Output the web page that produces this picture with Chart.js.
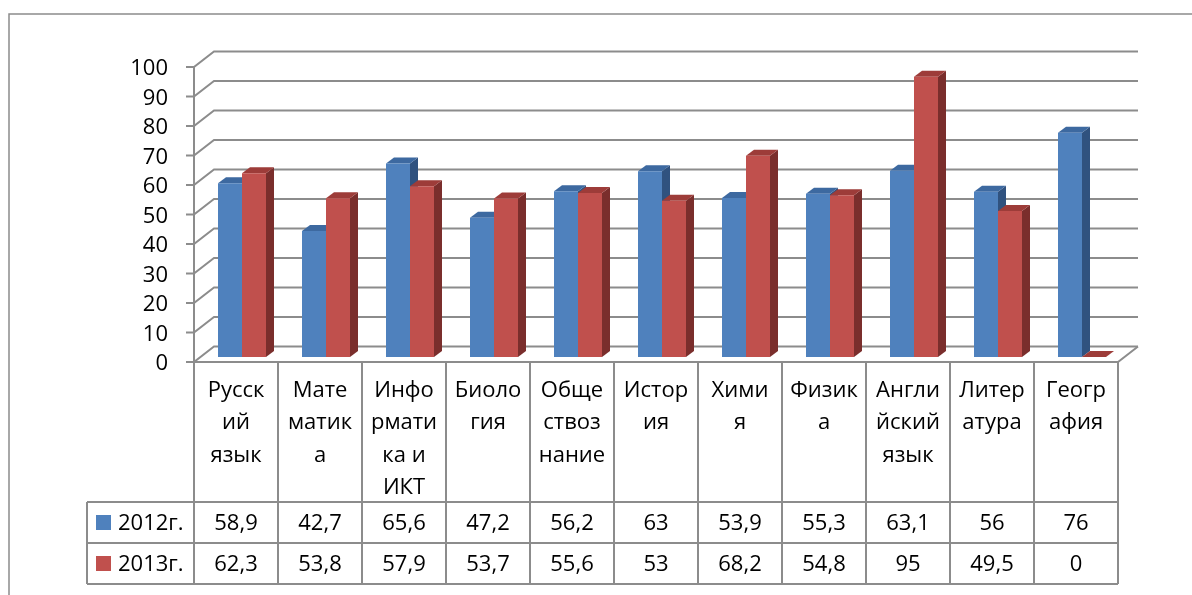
<!DOCTYPE html>
<html>
<head>
<meta charset="utf-8">
<script src="https://cdn.jsdelivr.net/npm/chart.js@4/dist/chart.umd.min.js"></script>
<style>
  body { margin: 0; background: #fff; }
</style>
</head>
<body>
<canvas id="chart" width="1192" height="595"></canvas>
<script>
const categories = [
  ['Русск', 'ий', 'язык'],
  ['Мате', 'матик', 'а'],
  ['Инфо', 'рмати', 'ка и', 'ИКТ'],
  ['Биоло', 'гия'],
  ['Обще', 'ствоз', 'нание'],
  ['Истор', 'ия'],
  ['Хими', 'я'],
  ['Физик', 'а'],
  ['Англи', 'йский', 'язык'],
  ['Литер', 'атура'],
  ['Геогр', 'афия']
];
const series2012 = [58.9, 42.7, 65.6, 47.2, 56.2, 63, 53.9, 55.3, 63.1, 56, 76];
const series2013 = [62.3, 53.8, 57.9, 53.7, 55.6, 53, 68.2, 54.8, 95, 49.5, 0];
const seriesNames = ['2012г.', '2013г.'];
const yTicks = [0, 10, 20, 30, 40, 50, 60, 70, 80, 90, 100];

const FONT = '"Open Sans", sans-serif';
const GRID = '#8c8c8c';
// offsets of the front plane / back wall from the plane the bars stand in
const FRONT = { dx: -6, dy: 5 };
const BACK = { dx: 14, dy: -10.5 };
const DEPTH = { dx: 8, dy: -6 };

const colors = ['#4f81bd', '#c0504d'];
const faces = [
  { top: '#3d69a0', side: '#30527f' },
  { top: '#9d3c39', side: '#7a2e2c' }
];

const fmt = v => String(v).replace('.', ',');

function poly(ctx, pts, fill) {
  ctx.beginPath();
  ctx.moveTo(pts[0][0], pts[0][1]);
  for (let i = 1; i < pts.length; i++) ctx.lineTo(pts[i][0], pts[i][1]);
  ctx.closePath();
  ctx.fillStyle = fill;
  ctx.fill();
}

const framePlugin = {
  id: 'frame',
  beforeDraw(chart) {
    const ctx = chart.ctx;
    ctx.save();
    ctx.fillStyle = '#fff';
    ctx.fillRect(0, 0, chart.width, chart.height);
    ctx.strokeStyle = GRID;
    ctx.lineWidth = 1.5;
    ctx.beginPath();
    ctx.moveTo(9, chart.height);
    ctx.lineTo(9, 14);
    ctx.lineTo(chart.width, 14);
    ctx.stroke();
    ctx.restore();
  }
};

const wallPlugin = {
  id: 'wall',
  beforeDatasetsDraw(chart) {
    const ctx = chart.ctx;
    const ys = chart.scales.y;
    const area = chart.chartArea;
    const fx = area.left + FRONT.dx;
    const bx = area.left + BACK.dx;
    const bxr = area.right + BACK.dx;
    const p0 = ys.getPixelForValue(0);

    ctx.save();
    ctx.strokeStyle = GRID;
    ctx.lineWidth = 2;
    ctx.beginPath();
    ctx.moveTo(fx, ys.getPixelForValue(100) + FRONT.dy);
    ctx.lineTo(fx, p0 + FRONT.dy);
    ctx.stroke();
    yTicks.forEach(v => {
      const p = ys.getPixelForValue(v);
      ctx.beginPath();
      ctx.moveTo(fx - 8, p + FRONT.dy);
      ctx.lineTo(fx, p + FRONT.dy);
      ctx.lineTo(bx, p + BACK.dy);
      ctx.lineTo(bxr, p + BACK.dy);
      ctx.stroke();
    });
    // floor: front and right edge
    ctx.beginPath();
    ctx.moveTo(fx, p0 + FRONT.dy);
    ctx.lineTo(area.right + FRONT.dx, p0 + FRONT.dy);
    ctx.lineTo(bxr, p0 + BACK.dy);
    ctx.stroke();

    // top and side faces of the columns, front faces come from chart.js
    categories.forEach((c, i) => {
      chart.data.datasets.forEach((ds, d) => {
        const el = chart.getDatasetMeta(d).data[i];
        const { x, y, base, width } = el.getProps(['x', 'y', 'base', 'width'], true);
        const x1 = x - width / 2, x2 = x + width / 2;
        poly(ctx, [[x2, y], [x2 + DEPTH.dx, y + DEPTH.dy], [x2 + DEPTH.dx, base + DEPTH.dy], [x2, base]], faces[d].side);
        poly(ctx, [[x1, y], [x2, y], [x2 + DEPTH.dx, y + DEPTH.dy], [x1 + DEPTH.dx, y + DEPTH.dy]], faces[d].top);
      });
    });
    ctx.restore();
  }
};

const tablePlugin = {
  id: 'table',
  afterDraw(chart) {
    const ctx = chart.ctx;
    const xs = chart.scales.x;
    const ys = chart.scales.y;
    const area = chart.chartArea;
    const slot = (area.right - area.left) / categories.length;
    const top = ys.getPixelForValue(0) + FRONT.dy;
    const rowTops = [502, 543, 584];
    const keyLeft = 87;
    const tLeft = area.left + FRONT.dx;
    const tRight = area.right + FRONT.dx;

    ctx.save();
    ctx.strokeStyle = GRID;
    ctx.lineWidth = 2;
    ctx.beginPath();
    for (let i = 0; i <= categories.length; i++) {
      const lx = tLeft + i * slot;
      ctx.moveTo(lx, top);
      ctx.lineTo(lx, rowTops[2]);
    }
    rowTops.forEach(ry => {
      ctx.moveTo(keyLeft, ry);
      ctx.lineTo(tRight, ry);
    });
    ctx.moveTo(keyLeft, rowTops[0]);
    ctx.lineTo(keyLeft, rowTops[2]);
    ctx.stroke();

    ctx.fillStyle = '#000';
    ctx.font = '22px ' + FONT;
    ctx.textBaseline = 'alphabetic';
    ctx.textAlign = 'center';
    categories.forEach((lines, i) => {
      const cx = xs.getPixelForValue(i) + FRONT.dx;
      lines.forEach((t, k) => ctx.fillText(t, cx, 397 + k * 32.3));
      ctx.fillText(fmt(series2012[i]), cx, 530);
      ctx.fillText(fmt(series2013[i]), cx, 571);
    });

    ctx.textAlign = 'left';
    seriesNames.forEach((name, d) => {
      const base = 530 + d * 41;
      ctx.fillStyle = colors[d];
      ctx.fillRect(96, base - 15, 15, 15);
      ctx.fillStyle = '#000';
      ctx.fillText(name, 118, base);
    });
    ctx.restore();
  }
};

new Chart(document.getElementById('chart'), {
  type: 'bar',
  data: {
    labels: categories,
    datasets: [
      { label: seriesNames[0], data: series2012, backgroundColor: colors[0] },
      { label: seriesNames[1], data: series2013, backgroundColor: colors[1] }
    ]
  },
  options: {
    responsive: false,
    animation: false,
    events: [],
    layout: { padding: { left: 0, right: 68, top: 62, bottom: 238 } },
    categoryPercentage: 48 / 84,
    barPercentage: 1,
    plugins: {
      legend: { display: false },
      tooltip: { enabled: false }
    },
    scales: {
      x: { display: false },
      y: {
        min: 0,
        max: 100,
        afterFit(scale) { scale.width = 200; },
        grid: { display: false, drawTicks: false },
        border: { display: false },
        ticks: {
          stepSize: 10,
          padding: 32,
          labelOffset: 7,
          color: '#000',
          font: { family: FONT, size: 22 }
        }
      }
    }
  },
  plugins: [framePlugin, wallPlugin, tablePlugin]
});
</script>
</body>
</html>
